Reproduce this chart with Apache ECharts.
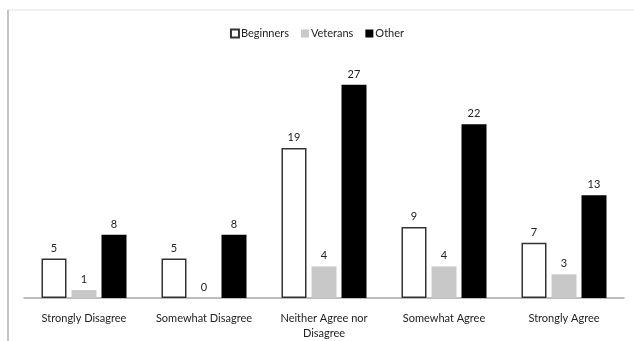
<!DOCTYPE html>
<html>
<head>
<meta charset="utf-8">
<script src="https://cdn.jsdelivr.net/npm/echarts@6/dist/echarts.min.js"></script>
<style>
  html, body { margin: 0; padding: 0; background: #fff; }
  #chart { width: 634px; height: 341px; }
</style>
</head>
<body>
<div id="chart"></div>
<script>
// Survey responses by respondent group
const categories = ['Strongly Disagree', 'Somewhat Disagree', 'Neither Agree nor Disagree', 'Somewhat Agree', 'Strongly Agree'];
const beginners = [5, 5, 19, 9, 7];
const veterans = [1, 0, 4, 4, 3];
const other = [8, 8, 27, 22, 13];

const FONT = 'Lato, "Open Sans", sans-serif';
const labelStyle = {
  show: true,
  position: 'top',
  distance: 5,
  color: '#222',
  fontFamily: FONT,
  fontSize: 11
};

const chart = echarts.init(document.getElementById('chart'), null, { renderer: 'canvas' });
chart.setOption({
  animation: false,
  backgroundColor: '#fff',
  textStyle: { fontFamily: FONT },
  graphic: [
    // frame around the chart area
    { type: 'line', shape: { x1: 8, y1: 10, x2: 634, y2: 10 }, style: { stroke: '#e2e2e2', lineWidth: 1 } },
    { type: 'line', shape: { x1: 8, y1: 10, x2: 8, y2: 341 }, style: { stroke: '#c4c4c4', lineWidth: 2 } }
  ],
  legend: {
    top: 23,
    left: 'center',
    itemWidth: 8,
    itemHeight: 8,
    itemGap: 12,
    icon: 'rect',
    textStyle: { color: '#222', fontSize: 11, fontFamily: FONT, padding: [0, 0, 0, -3] },
    data: ['Beginners', 'Veterans', 'Other']
  },
  grid: { left: 24, right: 10, top: 61, bottom: 43, containLabel: false },
  xAxis: {
    type: 'category',
    data: categories,
    axisLine: { lineStyle: { color: '#a8a8a8', width: 1.5 } },
    axisTick: { show: false },
    axisLabel: {
      interval: 0,
      color: '#222',
      fontSize: 11,
      fontFamily: FONT,
      margin: 13,
      lineHeight: 15,
      formatter: v => v === 'Neither Agree nor Disagree' ? 'Neither Agree nor\nDisagree' : v
    }
  },
  yAxis: {
    type: 'value',
    min: 0,
    max: 30,
    interval: 5,
    show: false,
    splitLine: { show: false }
  },
  series: [
    {
      name: 'Beginners',
      type: 'bar',
      data: beginners,
      barWidth: 25,
      barGap: '20%',
      itemStyle: { color: '#fff', borderColor: '#333', borderWidth: 1.5 },
      label: labelStyle
    },
    {
      name: 'Veterans',
      type: 'bar',
      data: veterans,
      barWidth: 25,
      barGap: '20%',
      itemStyle: { color: '#c8c8c8' },
      label: labelStyle
    },
    {
      name: 'Other',
      type: 'bar',
      data: other,
      barWidth: 25,
      barGap: '20%',
      itemStyle: { color: '#000' },
      label: labelStyle
    }
  ]
});
</script>
</body>
</html>
